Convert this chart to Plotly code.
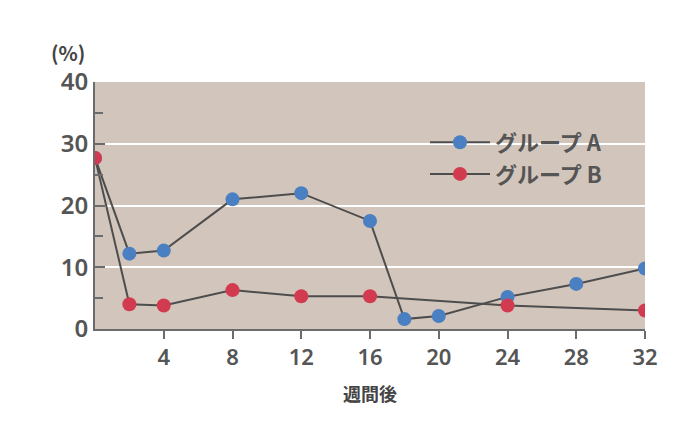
import plotly.graph_objects as go

weeks_a = [0, 2, 4, 8, 12, 16, 18, 20, 24, 28, 32]
group_a = [27.7, 12.2, 12.7, 21.0, 22.0, 17.5, 1.6, 2.1, 5.2, 7.3, 9.8]
weeks_b = [0, 2, 4, 8, 12, 16, 24, 32]
group_b = [27.7, 4.0, 3.8, 6.3, 5.3, 5.3, 3.8, 3.0]
x_ticks = [4, 8, 12, 16, 20, 24, 28, 32]

line_col = "#4d4d4d"
fig = go.Figure()
fig.add_trace(go.Scatter(x=weeks_a, y=group_a, name="グループ A", mode="lines+markers",
                         line=dict(color=line_col, width=2),
                         marker=dict(color="#4a7fc1", size=14)))
fig.add_trace(go.Scatter(x=weeks_b, y=group_b, name="グループ B", mode="lines+markers",
                         line=dict(color=line_col, width=2),
                         marker=dict(color="#d23a50", size=14)))

fig.update_layout(
    width=680, height=426,
    margin=dict(l=87, r=43, t=74, b=105, autoexpand=False),
    paper_bgcolor="white", plot_bgcolor="#d2c5bb",
    font=dict(family="Noto Sans CJK JP", color="#555555"),
    legend=dict(x=0.6, y=0.84, xanchor="left", yanchor="top",
                bgcolor="rgba(0,0,0,0)",
                font=dict(size=22, color="#555555", weight=600),
                tracegroupgap=14, itemwidth=60),
    annotations=[
        dict(text="(%)", x=-0.05, y=1.12, xref="paper", yref="paper", showarrow=False,
             xanchor="center", yanchor="middle",
             font=dict(size=20, color="#444444", weight=600)),
        dict(text="週間後", x=0.5, y=-0.26, xref="paper", yref="paper", showarrow=False,
             xanchor="center", yanchor="middle",
             font=dict(size=18, color="#444444", weight=600)),
    ],
)

fig.update_xaxes(range=[0, 32], tickvals=x_ticks, showgrid=False, zeroline=False,
                 showline=True, linecolor="#6b6b6b", linewidth=2,
                 ticks="outside", ticklen=8, tickcolor="#6b6b6b", tickwidth=2,
                 tickfont=dict(size=22, color="#555555", family="Noto Sans", weight=600))
fig.update_yaxes(range=[0, 40], dtick=10, showgrid=True, gridcolor="white", gridwidth=2,
                 zeroline=False, showline=True, linecolor="#6b6b6b", linewidth=2,
                 ticks="inside", ticklen=10, tickcolor="#6b6b6b", tickwidth=2,
                 minor=dict(dtick=5, ticks="inside", ticklen=8, tickcolor="#6b6b6b", showgrid=False),
                 tickfont=dict(size=24, color="#555555", family="Noto Sans", weight=600))

fig.write_html("out.html")
